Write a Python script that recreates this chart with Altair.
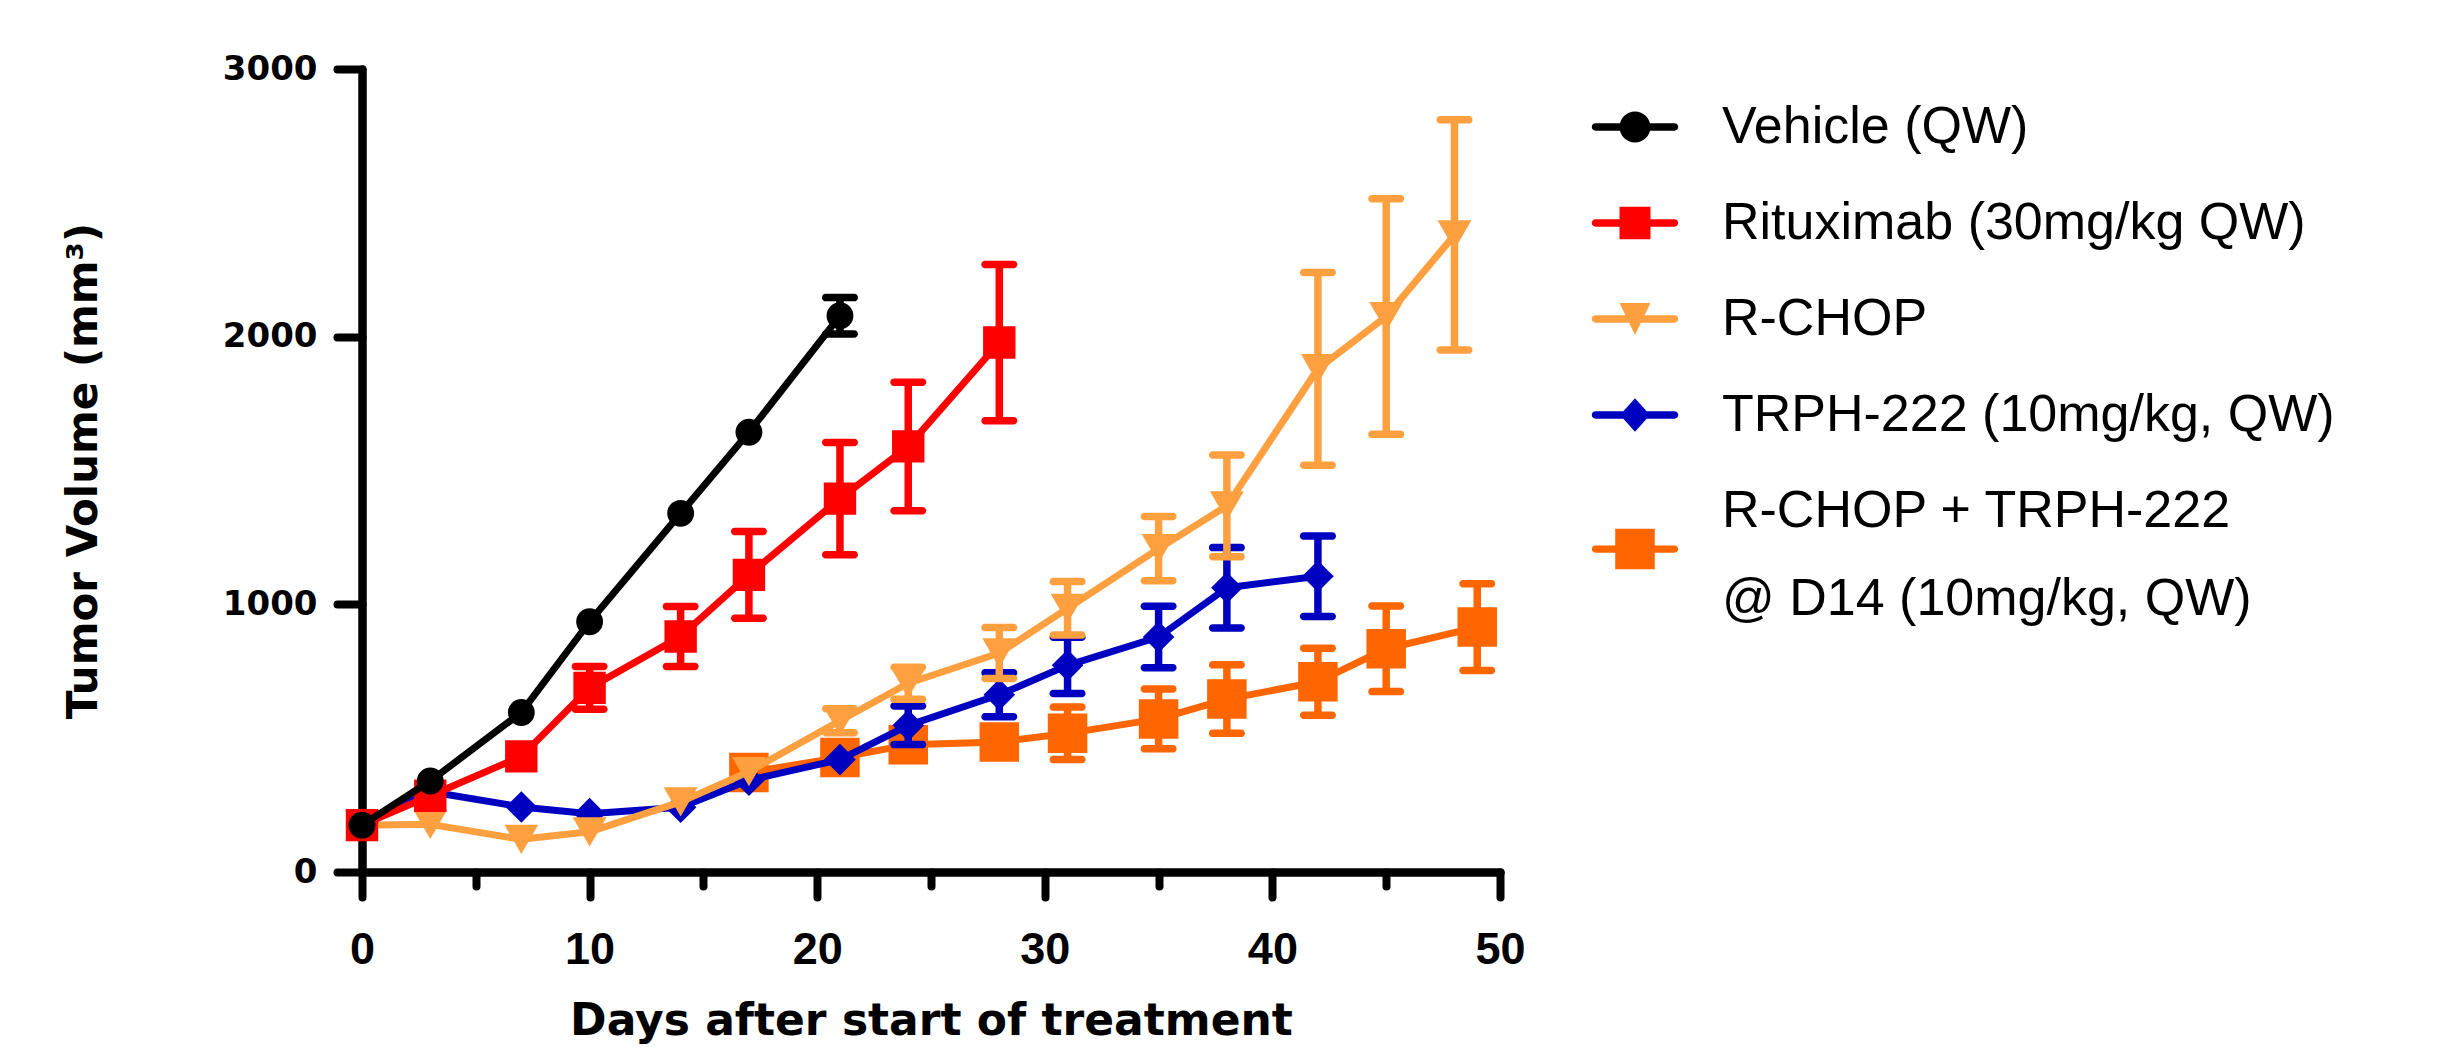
import altair as alt
import pandas as pd

# ---------------- data ----------------
combo_label_lines = ["R-CHOP + TRPH-222", "@ D14 (10mg/kg, QW)"]
series_names = [
    "Vehicle (QW)",
    "Rituximab (30mg/kg QW)",
    "R-CHOP",
    "TRPH-222 (10mg/kg, QW)",
    " ".join(combo_label_lines),
]

vehicle_days = [0, 3, 7, 10, 14, 17, 21]
vehicle_volume = [175, 340, 596, 935, 1340, 1643, 2078]
vehicle_sem = [0, 0, 0, 0, 0, 0, 68]

rituximab_days = [0, 3, 7, 10, 14, 17, 21, 24, 28]
rituximab_volume = [175, 285, 432, 688, 880, 1110, 1395, 1590, 1978]
rituximab_sem = [0, 0, 0, 80, 112, 162, 210, 240, 292]

rchop_days = [0, 3, 7, 10, 14, 17, 21, 24, 28, 31, 35, 38, 42, 45, 48]
rchop_volume = [175, 178, 122, 150, 262, 375, 565, 705, 818, 985, 1208, 1368, 1880, 2075, 2380]
rchop_sem = [0, 0, 0, 0, 0, 0, 45, 60, 95, 100, 120, 190, 360, 440, 430]

trph_days = [0, 3, 7, 10, 14, 17, 21, 24, 28, 31, 35, 38, 42]
trph_volume = [175, 300, 243, 218, 242, 343, 420, 548, 662, 772, 878, 1062, 1105]
trph_sem = [0, 0, 0, 0, 0, 0, 0, 72, 82, 105, 115, 150, 150]

combo_days = [17, 21, 24, 28, 31, 35, 38, 42, 45, 49]
combo_volume = [372, 428, 475, 486, 518, 572, 646, 711, 834, 915]
combo_sem = [0, 0, 0, 0, 98, 112, 128, 125, 160, 162]

x_ticks = [0, 5, 10, 15, 20, 25, 30, 35, 40, 45, 50]
y_ticks = [0, 1000, 2000, 3000]

# ---------------- styles ----------------
series_colors = ["#000000", "#FF0000", "#FFA040", "#0000C0", "#FF6600"]
marker_shapes = ["circle", "square", "triangle-down", "diamond", "square"]
marker_sizes = [720, 1050, 1150, 1000, 1560]

_line = "M-0.92,-0.085H0.92A0.085 0.085 0 0 1 0.92 0.085H-0.92A0.085 0.085 0 0 1 -0.92 -0.085Z"
# combo symbol drawn lower so it sits between the two label lines
_line_low = "M-0.92,0.8H0.92A0.085 0.085 0 0 1 0.92 0.97H-0.92A0.085 0.085 0 0 1 -0.92 0.8Z"
legend_paths = [
    _line + "M-0.36,0A0.36 0.36 0 1 1 0.36 0A0.36 0.36 0 1 1 -0.36 0Z",
    _line + "M-0.36,-0.38H0.36V0.38H-0.36Z",
    _line + "M-0.36,-0.37H0.36L0,0.37Z",
    _line + "M0,-0.39L0.35,0L0,0.39L-0.35,0Z",
    _line_low + "M-0.46,0.415H0.46V1.355H-0.46Z",
]

# ---------------- table ----------------
all_series = [
    (vehicle_days, vehicle_volume, vehicle_sem),
    (rituximab_days, rituximab_volume, rituximab_sem),
    (rchop_days, rchop_volume, rchop_sem),
    (trph_days, trph_volume, trph_sem),
    (combo_days, combo_volume, combo_sem),
]
rows = []
for name, (days, vol, sem) in zip(series_names, all_series):
    for d, v, s in zip(days, vol, sem):
        rows.append({"series": name, "day": d, "volume": v, "sem": s,
                     "lower": v - s, "upper": v + s})
df = pd.DataFrame(rows)

# ---------------- scales / axes ----------------
x_scale = alt.Scale(domain=[0, 50], nice=False, zero=False)
y_scale = alt.Scale(domain=[0, 3000], nice=False)
color_scale = alt.Scale(domain=series_names, range=series_colors)

x_axis = alt.Axis(
    values=x_ticks,
    labelExpr="datum.value % 10 === 0 ? datum.label : ''",
    tickSize={"condition": {"test": "datum.value % 10 === 0", "value": 25}, "value": 14},
    tickWidth=8, tickColor="black", tickCap="round",
    domainWidth=8.5, domainColor="black", domainCap="round",
    labelFont="Liberation Sans", labelFontSize=45, labelFontWeight="bold",
    labelColor="black", labelPadding=30, labelFlush=False, labelOverlap=False,
    title="Days after start of treatment",
    titleFont="DejaVu Sans", titleFontSize=44, titleFontWeight="bold",
    titleColor="black", titleY=127, titleBaseline="top",
    grid=False,
)
y_axis = alt.Axis(
    values=y_ticks, format="d",
    tickSize=25, tickWidth=8, tickColor="black", tickCap="round",
    domainWidth=8.5, domainColor="black", domainCap="round",
    labelFont="DejaVu Sans", labelFontSize=34, labelFontWeight="bold",
    labelColor="black", labelPadding=20, labelFlush=False,
    title="Tumor Volume (mm³)",
    titleFont="DejaVu Sans", titleFontSize=42, titleFontWeight="bold",
    titleColor="black", titleX=-279, titleBaseline="middle",
    grid=False,
)

X = alt.X("day:Q", scale=x_scale, axis=x_axis)
Y = alt.Y("volume:Q", scale=y_scale, axis=y_axis)

layers = []
for i in reversed(range(len(series_names))):
    name = series_names[i]
    col = series_colors[i]
    base = alt.Chart(df).transform_filter(alt.FieldEqualPredicate(field="series", equal=name))
    line = base.mark_line(strokeWidth=7, strokeJoin="round", strokeCap="round", color=col).encode(x=X, y=Y)
    err = base.transform_filter("datum.sem > 0").mark_rule(strokeWidth=7.5, color=col).encode(
        x=X, y=alt.Y("lower:Q", scale=y_scale, axis=y_axis), y2="upper:Q")
    caps = base.transform_filter("datum.sem > 0").transform_fold(
        ["lower", "upper"], as_=["end", "val"]
    ).mark_tick(orient="horizontal", size=36, thickness=7.5, cornerRadius=3.7,
                opacity=1, color=col).encode(
        x=X, y=alt.Y("val:Q", scale=y_scale, axis=y_axis))
    pts = base.mark_point(filled=True, opacity=1, shape=marker_shapes[i], color=col,
                          size=marker_sizes[i], strokeWidth=0).encode(x=X, y=Y)
    layers += [line, err, caps, pts]

combo_test = "datum.label == '" + series_names[4] + "'"
label_expr = ("(" + combo_test + ") ? ['" + combo_label_lines[0] + "', '" +
              combo_label_lines[1] + "'] : datum.label")
legend = alt.Legend(
    title=None, orient="none", legendX=1230, legendY=15,
    labelFont="Liberation Sans", labelFontSize=52, labelColor="black",
    labelLimit=0, labelOffset=44, rowPadding=27,
    symbolStrokeWidth=0, symbolSize=7396, symbolOpacity=1,
    labelExpr=label_expr,
)
legend_layer = alt.Chart(df).transform_filter("false").mark_point(
    filled=True, opacity=1, size=7396, strokeWidth=0
).encode(
    x=X, y=Y,
    color=alt.Color("series:N", scale=color_scale, legend=legend),
    shape=alt.Shape("series:N", scale=alt.Scale(domain=series_names, range=legend_paths), legend=legend),
)
layers.append(legend_layer)

chart = alt.layer(*layers).properties(
    width=1138, height=803,
    autosize=alt.AutoSizeParams(type="none"),
    padding={"left": 362, "top": 69, "right": 960, "bottom": 177},
    background="white",
).configure(
    view=alt.ViewConfig(stroke=None),
    style={"guide-label": {"lineHeight": 88}},
)

chart.save("out.html", embed_options={"renderer": "svg", "actions": False})
